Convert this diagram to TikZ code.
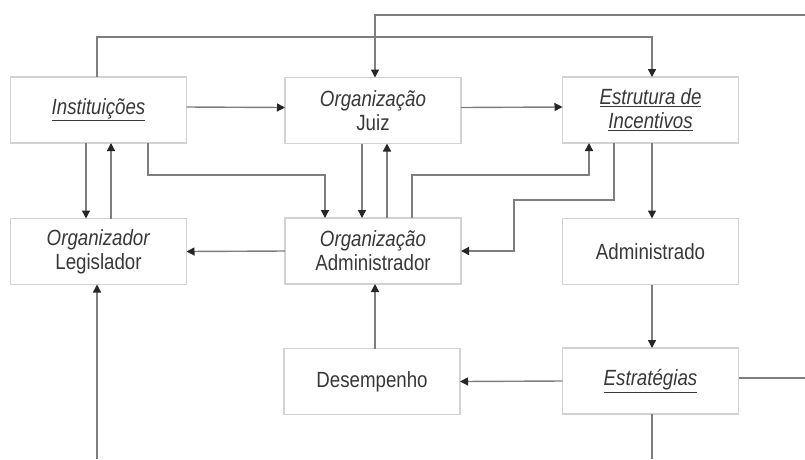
\documentclass[tikz,border=0pt]{standalone}
\usepackage{fontspec}
\setmainfont{Liberation Sans}[FakeStretch=0.85]
\usetikzlibrary{arrows.meta}
\definecolor{boxline}{HTML}{D2D2D2}
\definecolor{wire}{HTML}{7E7E7E}
\definecolor{tipcol}{HTML}{262626}
\definecolor{txt}{HTML}{383838}
\newcommand{\ulit}[1]{\textit{\underline{#1}}}
\tikzset{
  box/.style={draw=boxline, line width=1.4pt, rectangle, minimum width=176pt,
    minimum height=66pt, inner sep=2pt, outer sep=0pt, align=center,
    text=txt, font=\fontsize{22}{24}\selectfont},
  wire/.style={draw=wire, line width=1.4pt},
  arr/.style={wire, -{Triangle[length=8pt,width=8pt,color=tipcol]}},
}
\begin{document}
\begin{tikzpicture}[x=1pt,y=-1pt]
  \useasboundingbox (0,0) rectangle (805,459);
  \fill[white] (0,0) rectangle (805,459);

  % boxes
  \node[box] (inst) at (98.5,110)  {\ulit{Instituições}};
  \node[box] (juiz) at (373,110.5) {\textit{Organização}\\Juiz};
  \node[box] (estr) at (650.5,110) {\ulit{Estrutura de}\\\ulit{Incentivos}};
  \node[box] (leg)  at (98.5,251.5) {\textit{Organizador}\\Legislador};
  \node[box] (adm)  at (373,251)   {\textit{Organização}\\Administrador};
  \node[box] (admd) at (650.5,251.5) {Administrado};
  \node[box] (des)  at (372,381.5) {Desempenho};
  \node[box] (estg) at (650.5,381) {\ulit{Estratégias}};

  % free ends at the border
  \coordinate (inR)  at (805,15);
  \coordinate (outR) at (805,378);
  \coordinate (outB) at (652,459);
  \coordinate (inB)  at (97,459);

  % top loops
  \draw[arr] ([xshift=-1.5pt]inst.north) -- ++(0,-40) -| ([xshift=1.5pt]estr.north);
  \draw[arr] (inR) -| ([xshift=2pt]juiz.north);

  % first row
  \draw[arr] ([yshift=3pt]inst.east) -- ([yshift=3pt]juiz.west);
  \draw[arr] ([yshift=3pt]juiz.east) -- ([yshift=3pt]estr.west);

  % Instituições <-> Organizador Legislador
  \draw[arr] ([xshift=-12.5pt]inst.south) -- ([xshift=-12.5pt]leg.north);
  \draw[arr] ([xshift=12.5pt]leg.north) -- ([xshift=12.5pt]inst.south);

  % Instituições -> Organização Administrador
  \draw[arr] ([xshift=49.5pt]inst.south) -- ++(0,32) -| ([xshift=-48pt]adm.north);

  % Juiz <-> Administrador
  \draw[arr] ([xshift=-11pt]juiz.south) -- ([xshift=-11pt]adm.north);
  \draw[arr] ([xshift=14pt]adm.north) -- ([xshift=14pt]juiz.south);

  % Administrador -> Estrutura de Incentivos
  \draw[arr] ([xshift=39pt]adm.north) -- ++(0,-43) -| ([xshift=-61.5pt]estr.south);

  % Estrutura de Incentivos -> Administrador
  \draw[arr] ([xshift=-36.5pt]estr.south) -- ++(0,57) -- ++(-100,0) |- (adm.east);

  % right column
  \draw[arr] ([xshift=1.5pt]estr.south) -- ([xshift=1.5pt]admd.north);
  \draw[arr] ([xshift=1.5pt]admd.south) -- ([xshift=1.5pt]estg.north);

  % Administrador -> Legislador
  \draw[arr] (adm.west) -- (leg.east);

  % Desempenho -> Administrador
  \draw[arr] ([xshift=3pt]des.north) -- ([xshift=2pt]adm.south);

  % Estratégias -> Desempenho
  \draw[arr] (estg.west) -- (des.east);

  % open ends
  \draw[wire] ([yshift=3pt]estg.east) -- (outR);
  \draw[wire] ([xshift=1.5pt]estg.south) -- (outB);
  \draw[arr] (inB) -- ([xshift=-1.5pt]leg.south);
\end{tikzpicture}
\end{document}
